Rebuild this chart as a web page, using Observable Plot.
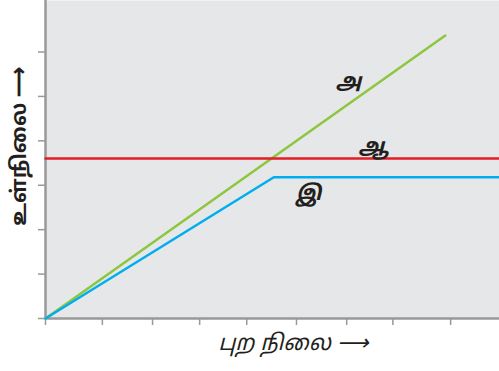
<!DOCTYPE html>
<html>
<head>
<meta charset="utf-8">
<script src="https://cdn.jsdelivr.net/npm/d3@7"></script>
<script src="https://cdn.jsdelivr.net/npm/@observablehq/plot@0.6"></script>
<style>
  html, body { margin: 0; padding: 0; background: #fff; }
  #chart svg { display: block; }
</style>
</head>
<body>
<div id="chart"></div>
<script>
// Data (arbitrary units)
const xDomain = [0, 10.22];
const yDomain = [0, 7.16];
const xTicks = [0, 1.28, 2.41, 3.47, 4.53, 5.65, 6.78, 7.82, 9.12];
const yTicks = [0, 1, 2, 3, 4, 5, 6];

const lineA_x = [0, 9.0];
const lineA_y = [0, 6.37];
const lineB_x = [0, 10.22];
const lineB_y = [3.6, 3.6];
const lineC_x = [0, 5.14, 10.22];
const lineC_y = [0, 3.18, 3.18];

const seriesNames = ["அ", "ஆ", "இ"];
const labelX = [6.82, 7.39, 5.92];
const labelY = [5.34, 3.87, 2.82];
const labelSize = [21, 21, 21];

const xLabel = "புற நிலை ⟶";
const yLabel = "உள்நிலை ⟶";

const colors = {A: "#8dc63f", B: "#e31e24", C: "#00aeef"};

const toPts = (xs, ys) => xs.map((x, i) => ({x, y: ys[i]}));
const labels = seriesNames.map((t, i) => ({t, x: labelX[i], y: labelY[i], s: labelSize[i]}));

const tamilFont = "'Noto Sans Tamil', 'Lohit Tamil', 'Noto Sans', sans-serif";

const chart = Plot.plot({
  width: 499,
  height: 371,
  marginLeft: 45,
  marginRight: 0,
  marginTop: 0,
  marginBottom: 53,
  x: {domain: xDomain, axis: null},
  y: {domain: yDomain, axis: null},
  style: {background: "#fff"},
  marks: [
    Plot.frame({fill: "#e6e7e8", stroke: "none"}),
    Plot.axisX(xTicks, {tickSize: 7, tickFormat: () => "", stroke: "#999", strokeWidth: 1.5, label: null}),
    Plot.axisY(yTicks, {tickSize: 7, tickFormat: () => "", stroke: "#999", strokeWidth: 1.5, label: null}),
    Plot.ruleY([0], {stroke: "#999", strokeWidth: 2.5}),
    Plot.ruleX([0], {stroke: "#999", strokeWidth: 2.5}),
    Plot.line(toPts(lineA_x, lineA_y), {x: "x", y: "y", stroke: colors.A, strokeWidth: 2.5}),
    Plot.line(toPts(lineB_x, lineB_y), {x: "x", y: "y", stroke: colors.B, strokeWidth: 2.5}),
    Plot.line(toPts(lineC_x, lineC_y), {x: "x", y: "y", stroke: colors.C, strokeWidth: 2.5}),
    Plot.text(labels, {x: "x", y: "y", text: "t", fontSize: "s", fill: "#231f20",
      fontStyle: "italic", fontWeight: "bold", fontFamily: tamilFont}),
    Plot.text([xLabel], {frameAnchor: "bottom", textAnchor: "middle", dy: 31, dx: 21, fontSize: 22, fontStyle: "italic",
      fill: "#231f20", fontFamily: tamilFont}),
    Plot.text([yLabel], {frameAnchor: "left", textAnchor: "middle", rotate: -90, dx: -26, dy: -13, fontSize: 21, fontWeight: "bold",
      fill: "#231f20", fontFamily: tamilFont})
  ]
});
document.getElementById("chart").appendChild(chart);
</script>
</body>
</html>
